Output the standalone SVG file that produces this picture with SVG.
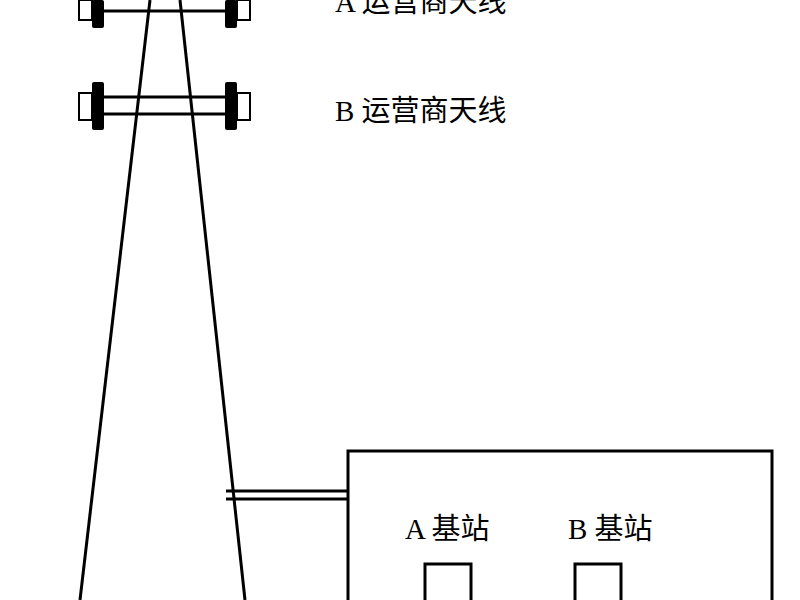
<svg xmlns="http://www.w3.org/2000/svg" width="800" height="600" viewBox="0 0 800 600">
<style>
.l{stroke:#000;stroke-width:3;fill:none}
.t{font-family:"Liberation Serif","Noto Sans CJK SC",serif;font-size:29px;fill:#000}
.blk{fill:#000}
.hk{fill:#fff;stroke:#000;stroke-width:2}
</style>
<rect width="800" height="600" fill="#fff"/>
<g id="tower">
<line class="l" x1="150" y1="0" x2="80" y2="600"/>
<line class="l" x1="180" y1="0" x2="245" y2="600"/>
</g>
<g id="antennaA">
<line class="l" x1="100" y1="11" x2="230" y2="11"/>
<rect class="hk" x="79" y="0" width="13" height="20"/>
<rect class="blk" x="92" y="0" width="12" height="28" rx="2"/>
<rect class="blk" x="225" y="0" width="12" height="28" rx="2"/>
<rect class="hk" x="237" y="0" width="13" height="20"/>
</g>
<g id="antennaB">
<line class="l" x1="100" y1="97" x2="230" y2="97"/>
<line class="l" x1="100" y1="114" x2="230" y2="114"/>
<rect class="hk" x="79" y="93" width="13" height="27"/>
<rect class="blk" x="92" y="82" width="12" height="48" rx="2"/>
<rect class="blk" x="225" y="82" width="12" height="48" rx="2"/>
<rect class="hk" x="237" y="93" width="13" height="27"/>
</g>
<text class="t" x="335" y="12">A 运营商天线</text>
<text class="t" x="335" y="121">B 运营商天线</text>
<g id="connectors">
<line class="l" x1="226" y1="491" x2="348" y2="491"/>
<line class="l" x1="226" y1="499" x2="348" y2="499"/>
</g>
<g id="room">
<rect class="l" x="348" y="451" width="424" height="160"/>
</g>
<g id="stationA">
<text class="t" x="405" y="539">A 基站</text>
<rect class="l" x="425" y="564" width="46" height="50"/>
</g>
<g id="stationB">
<text class="t" x="568" y="539">B 基站</text>
<rect class="l" x="575" y="564" width="46" height="50"/>
</g>
</svg>
